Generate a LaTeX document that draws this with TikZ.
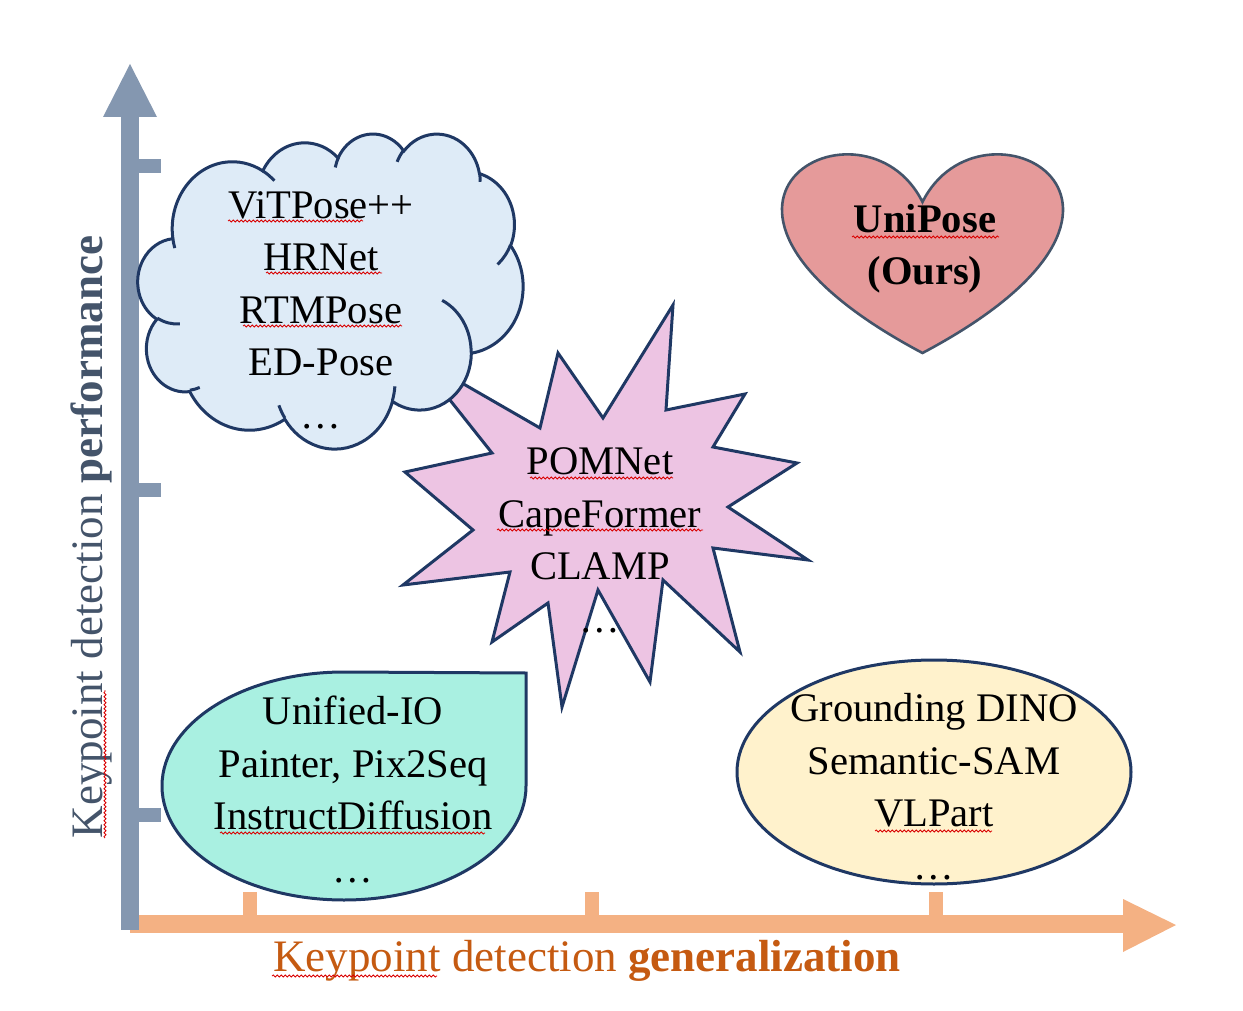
\documentclass[tikz,border=0pt]{standalone}
\usepackage{fontspec}
\setmainfont{Liberation Serif}
\usetikzlibrary{decorations.pathmorphing}

\definecolor{axisblue}{HTML}{8497B0}
\definecolor{axisorange}{HTML}{F4B183}
\definecolor{labelslate}{HTML}{44546A}
\definecolor{labelrust}{HTML}{C55A11}
\definecolor{edgenavy}{HTML}{1F3864}
\definecolor{cloudfill}{HTML}{DEEBF7}
\definecolor{burstfill}{HTML}{EDC4E3}
\definecolor{dropfill}{HTML}{A9F0E1}
\definecolor{ovalfill}{HTML}{FFF2CC}
\definecolor{heartfill}{HTML}{E59A9A}

\tikzset{
  boxtext/.style={align=center,font=\fontsize{20.3}{26.25}\selectfont,inner sep=0pt},
  axislabel/.style={font=\fontsize{22.5}{27}\selectfont,inner sep=0pt},
  shapeedge/.style={draw=edgenavy,line width=1.5pt,line join=miter},
  spell/.style={red!85!black,line width=0.4pt,decorate,
    decoration={snake,amplitude=0.5pt,segment length=2pt}},
}

% angle on the ellipse -> parameter angle
\newcommand\puffangles[4]{%
  \pgfmathsetmacro\puffstart{atan2(#3*sin(#1),#4*cos(#1))}%
  \pgfmathsetmacro\puffend{atan2(#3*sin(#1+#2),#4*cos(#1+#2))}%
  \pgfmathsetmacro\puffdelta{mod(\puffend-\puffstart+720,360)}%
  \global\let\puffstart\puffstart
  \global\let\puffdelta\puffdelta}

\begin{document}
\begin{tikzpicture}[x=0.5pt,y=-0.5pt]
  \useasboundingbox (0,0) rectangle (1243,1011);

  % x axis
  \fill[axisorange] (130,915) rectangle (1123,933);
  \fill[axisorange] (1123,899) -- (1176,925) -- (1123,952) -- cycle;
  \foreach \xt in {250,592,936}
    \fill[axisorange] (\xt-7,892) rectangle (\xt+7,915);

  % y axis
  \fill[axisblue] (121,930) rectangle (139,117);
  \fill[axisblue] (103,117) -- (130,64) -- (157,117) -- cycle;
  \foreach \yt in {166,490,815}
    \fill[axisblue] (139,\yt-7) rectangle (161,\yt+7);

  % starburst
  \draw[shapeedge,fill=burstfill] (673,305) -- (666,410) -- (745,394) -- (713,447)
    -- (797,463) -- (728,507) -- (808,560) -- (713,548) -- (740,652) -- (663,580)
    -- (650,682) -- (598,590) -- (562,707) -- (548,603) -- (492,642) -- (510,572)
    -- (403,585) -- (473,530) -- (405,472) -- (492,453) -- (415,356) -- (540,428)
    -- (558,353) -- (603,418) -- cycle;

  % cloud, drawn in a 4320 x 4320 box
  \begin{scope}[shift={(69pt,-66.5pt)},x=0.04456pt,y=-0.036458pt]
    \draw[shapeedge,fill=cloudfill] (390,1437)
      \foreach \sa/\da/\rx/\ry in {
          -190.4875/123.7805/675.3/919.0, -144.1024/89.9452/533.3/726.7,
          -145.8079/99.7230/436.5/594.5, -130.9861/117.2417/485.7/659.5,
          -78.7089/109.0269/533.3/727.3, -46.2673/130.269/677.5/922.0,
          0.625/114.0333/578.5/786.7, 22.4516/115.1726/675.2/921.5,
          66.2426/75.7110/772.0/1054.3, -274.9421/146.7356/436.0/591.8,
          -246.8285/152.5189/434.5/594.5}{
        \pgfextra{\puffangles{\sa}{\da}{\rx}{\ry}}
        arc[start angle=\puffstart,delta angle=\puffdelta,x radius=\rx,y radius=\ry]
      } -- cycle;
    \foreach \px/\py/\sa/\da/\rx/\ry in {
        469.3/2617.7/86.742/26.4295/434.5/594.5,
        692.8/3489.9/73.6105/11.4475/436.0/591.8,
        1647.8/3909.0/137.6242/14.0811/675.2/921.5,
        2882.7/3475.1/6.4533/15.9984/675.2/921.5,
        3412.9/2295.4/-70.2924/70.9174/578.5/786.7,
        4179.8/1535.4/30.318/27.7515/533.3/727.3,
        3832.4/542.6/-13.7443/14.8589/485.7/659.5,
        2907.8/395.2/-149.1815/18.1954/485.7/659.5,
        2214.1/472.0/-163.4943/17.6864/436.5/594.5,
        1400.0/519.2/-66.707/12.3194/675.3/919.0,
        412.7/1578.9/157.6544/11.8582/675.3/919.0}{
      \puffangles{\sa}{\da}{\rx}{\ry}
      \draw[shapeedge] (\px,\py)
        arc[start angle=\puffstart,delta angle=\puffdelta,x radius=\rx,y radius=\ry];
    }
  \end{scope}

  % teardrop
  \draw[shapeedge,fill=dropfill] (526,673) -- (526,786)
    arc[start angle=0,end angle=270,x radius=182,y radius=114] -- cycle;

  % ellipse
  \draw[shapeedge,fill=ovalfill] (934,772) ellipse[x radius=197,y radius=112];

  % heart
  \draw[shapeedge,draw=labelslate,line width=1.3pt,fill=heartfill]
    (922.5,202) .. controls (980.6,85) and (1207.3,202) .. (922.5,353)
    .. controls (637.7,202) and (864.4,85) .. cycle;

  % texts (base = last line)
  \node[boxtext,anchor=base] (cloudtext) at (321,428)
    {ViTPose++\\HRNet\\RTMPose\\ED-Pose\\\dots};
  \node[boxtext,anchor=base] (bursttext) at (600,632)
    {POMNet\\CapeFormer\\CLAMP\\\dots};
  \node[boxtext,anchor=base] (droptext) at (353,882)
    {Unified-IO\\Painter, Pix2Seq\\InstructDiffusion\\\dots};
  \node[boxtext,anchor=base] (ovaltext) at (934,879)
    {Grounding DINO\\Semantic-SAM\\VLPart\\\dots};
  \node[boxtext,anchor=base,font=\fontsize{20.3}{25.5}\selectfont\bfseries] (hearttext) at (925,284)
    {UniPose\\(Ours)};

  \node[axislabel,text=labelrust,anchor=base] (xlabel) at (587,971)
    {Keypoint detection \textbf{generalization}};
  \node[axislabel,text=labelslate,rotate=90,anchor=base] (ylabel) at (102,537)
    {Keypoint detection \textbf{performance}};

  % spelling marks
  \foreach \a/\b/\c in {228/363/221,266/382/273,243/402/326,530/673/478,
      497/703/530,220/485/833,875/992/831,852/999/237,272/437/976}
    \draw[spell] (\a,\c) -- (\b,\c);
  \draw[spell] (105,838) -- (105,690);
\end{tikzpicture}
\end{document}
